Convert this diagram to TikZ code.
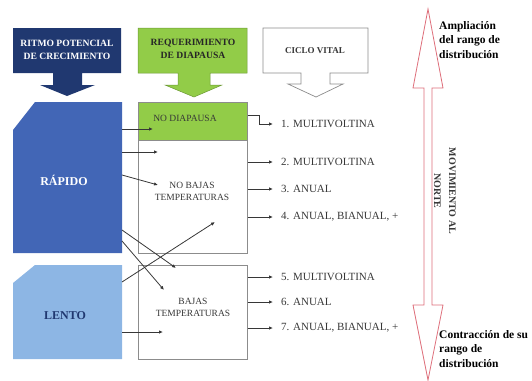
\documentclass[tikz,border=0pt]{standalone}
\usepackage{fontspec}
\setmainfont{Liberation Serif}
\usetikzlibrary{arrows.meta}
\definecolor{navy}{RGB}{32,56,112}
\definecolor{midblue}{RGB}{66,102,182}
\definecolor{lightblue}{RGB}{141,182,228}
\definecolor{lgreen}{RGB}{146,204,72}
\definecolor{boxgray}{RGB}{140,140,140}
\definecolor{redline}{RGB}{222,110,122}
\definecolor{txtgray}{RGB}{55,55,55}
\tikzset{
  conn/.style={draw=txtgray, line width=0.8pt, -{Latex[length=4pt,width=3.5pt]}},
  boxline/.style={draw=boxgray, line width=0.7pt},
  hdr/.style={font=\bfseries\fontsize{9.6}{13}\selectfont, align=center, inner sep=0pt},
  inbox/.style={font=\fontsize{9.5}{12}\selectfont, text=txtgray, align=center, inner sep=0pt},
  item/.style={font=\fontsize{11}{13}\selectfont, text=txtgray, anchor=west, inner sep=0pt},
  side/.style={font=\bfseries\fontsize{11.5}{14.5}\selectfont, align=left, anchor=north west, inner sep=0pt}
}
\begin{document}
\begin{tikzpicture}[x=1pt,y=-1pt]
\useasboundingbox (0,0) rectangle (532,380);
% header shapes
\fill[navy] (13,28) -- (121,28) -- (121,73) -- (82,73) -- (82,85) -- (95,85) -- (67,96) -- (40,85) -- (53,85) -- (53,73) -- (13,73) -- cycle;
\filldraw[fill=lgreen, draw=lgreen!75!black, line width=0.5pt] (138,28) -- (247,28) -- (247,73) -- (210,73) -- (210,85) -- (222,85) -- (194,97) -- (165,85) -- (178,85) -- (178,73) -- (138,73) -- cycle;
\draw[boxline, fill=white] (263,28) -- (368,28) -- (368,73) -- (330,73) -- (330,84) -- (343,84) -- (316,97) -- (288,84) -- (301,84) -- (301,73) -- (263,73) -- cycle;
\node[hdr, text=white] (ritmo) at (67,50) {RITMO POTENCIAL\\DE CRECIMIENTO};
\node[hdr, text=black!85] (req) at (193,49) {REQUERIMIENTO\\DE DIAPAUSA};
\node[hdr, text=txtgray, font=\bfseries\fontsize{9}{11}\selectfont] (ciclo) at (315,51) {CICLO VITAL};
% left shapes
\fill[midblue] (35,102) -- (122,102) -- (122,253) -- (13,253) -- (13,130) -- cycle;
\fill[lightblue] (35,265) -- (122,265) -- (122,359) -- (13,359) -- (13,283) -- cycle;
\node[font=\bfseries\fontsize{12}{14}\selectfont, text=white] (rapido) at (64,180) {RÁPIDO};
\node[font=\bfseries\fontsize{12}{14}\selectfont, text=navy] (lento) at (65,316) {LENTO};
% middle boxes
\node[boxline, fill=lgreen, minimum width=109pt, minimum height=38pt, inner sep=0pt, anchor=north west] (nod) at (138,102) {};
\node[boxline, minimum width=109pt, minimum height=113pt, inner sep=0pt, anchor=north west] (nob) at (138,140) {};
\node[boxline, minimum width=109pt, minimum height=94pt, inner sep=0pt, anchor=north west] (baj) at (138,265) {};
\node[inbox] (nodt) at (185,118) {NO DIAPAUSA};
\node[inbox] (nobt) at (192,191) {NO BAJAS\\TEMPERATURAS};
\node[inbox] (bajt) at (193,307) {BAJAS\\TEMPERATURAS};
% connector coordinates
\coordinate (r1) at (122,129); \coordinate (e1) at (153,129);
\coordinate (r2) at (122,152); \coordinate (e2) at (158,152);
\coordinate (r3) at (122,175); \coordinate (e3) at (158,185);
\coordinate (r4) at (122,230); \coordinate (e4) at (176,268);
\coordinate (r5) at (122,241); \coordinate (e5) at (164,290);
\coordinate (l1) at (122,282); \coordinate (f1) at (215,222);
\coordinate (l2) at (122,332); \coordinate (f2) at (163,332);
\draw[conn] (r1) -- (e1);
\draw[conn] (r2) -- (e2);
\draw[conn] (r3) -- (e3);
\draw[conn] (r4) -- (e4);
\draw[conn] (r5) -- (e5);
\draw[conn] (l1) -- (f1);
\draw[conn] (l2) -- (f2);
% outputs
\node[item] (i1) at (281,124) {1. MULTIVOLTINA};
\node[item] (i2) at (281,162) {2. MULTIVOLTINA};
\node[item] (i3) at (281,189) {3. ANUAL};
\node[item] (i4) at (281,217) {4. ANUAL, BIANUAL, +};
\node[item] (i5) at (281,277) {5. MULTIVOLTINA};
\node[item] (i6) at (281,302) {6. ANUAL};
\node[item] (i7) at (281,328) {7. ANUAL, BIANUAL, +};
\draw[conn] (nod.east |- 0,115) -- (259,115) -- (259,124) -- ([xshift=-8pt]i1.west);
\draw[conn] (nob.east |- i2) -- ([xshift=-8pt]i2.west);
\draw[conn] (nob.east |- i3) -- ([xshift=-8pt]i3.west);
\draw[conn] (nob.east |- i4) -- ([xshift=-8pt]i4.west);
\draw[conn] (baj.east |- i5) -- ([xshift=-8pt]i5.west);
\draw[conn] (baj.east |- i6) -- ([xshift=-8pt]i6.west);
\draw[conn] (baj.east |- i7) -- ([xshift=-8pt]i7.west);
% red double arrow
\draw[draw=redline, fill=white, line width=0.8pt, line join=miter] (428,9) -- (443,88) -- (432,88) -- (432,305) -- (443,305) -- (428,380) -- (413,305) -- (424,305) -- (424,88) -- (413,88) -- cycle;
\node[font=\bfseries\fontsize{10}{15}\selectfont, text=txtgray, align=center, rotate=-90, inner sep=0pt] (mov) at (445,191) {MOVIMIENTO AL\\NORTE};
\node[side] (amp) at (439,21) {Ampliación\\del rango de\\distribución};
\node[side] (con) at (439,330) {Contracción de su\\rango de\\distribución};
\end{tikzpicture}
\end{document}
